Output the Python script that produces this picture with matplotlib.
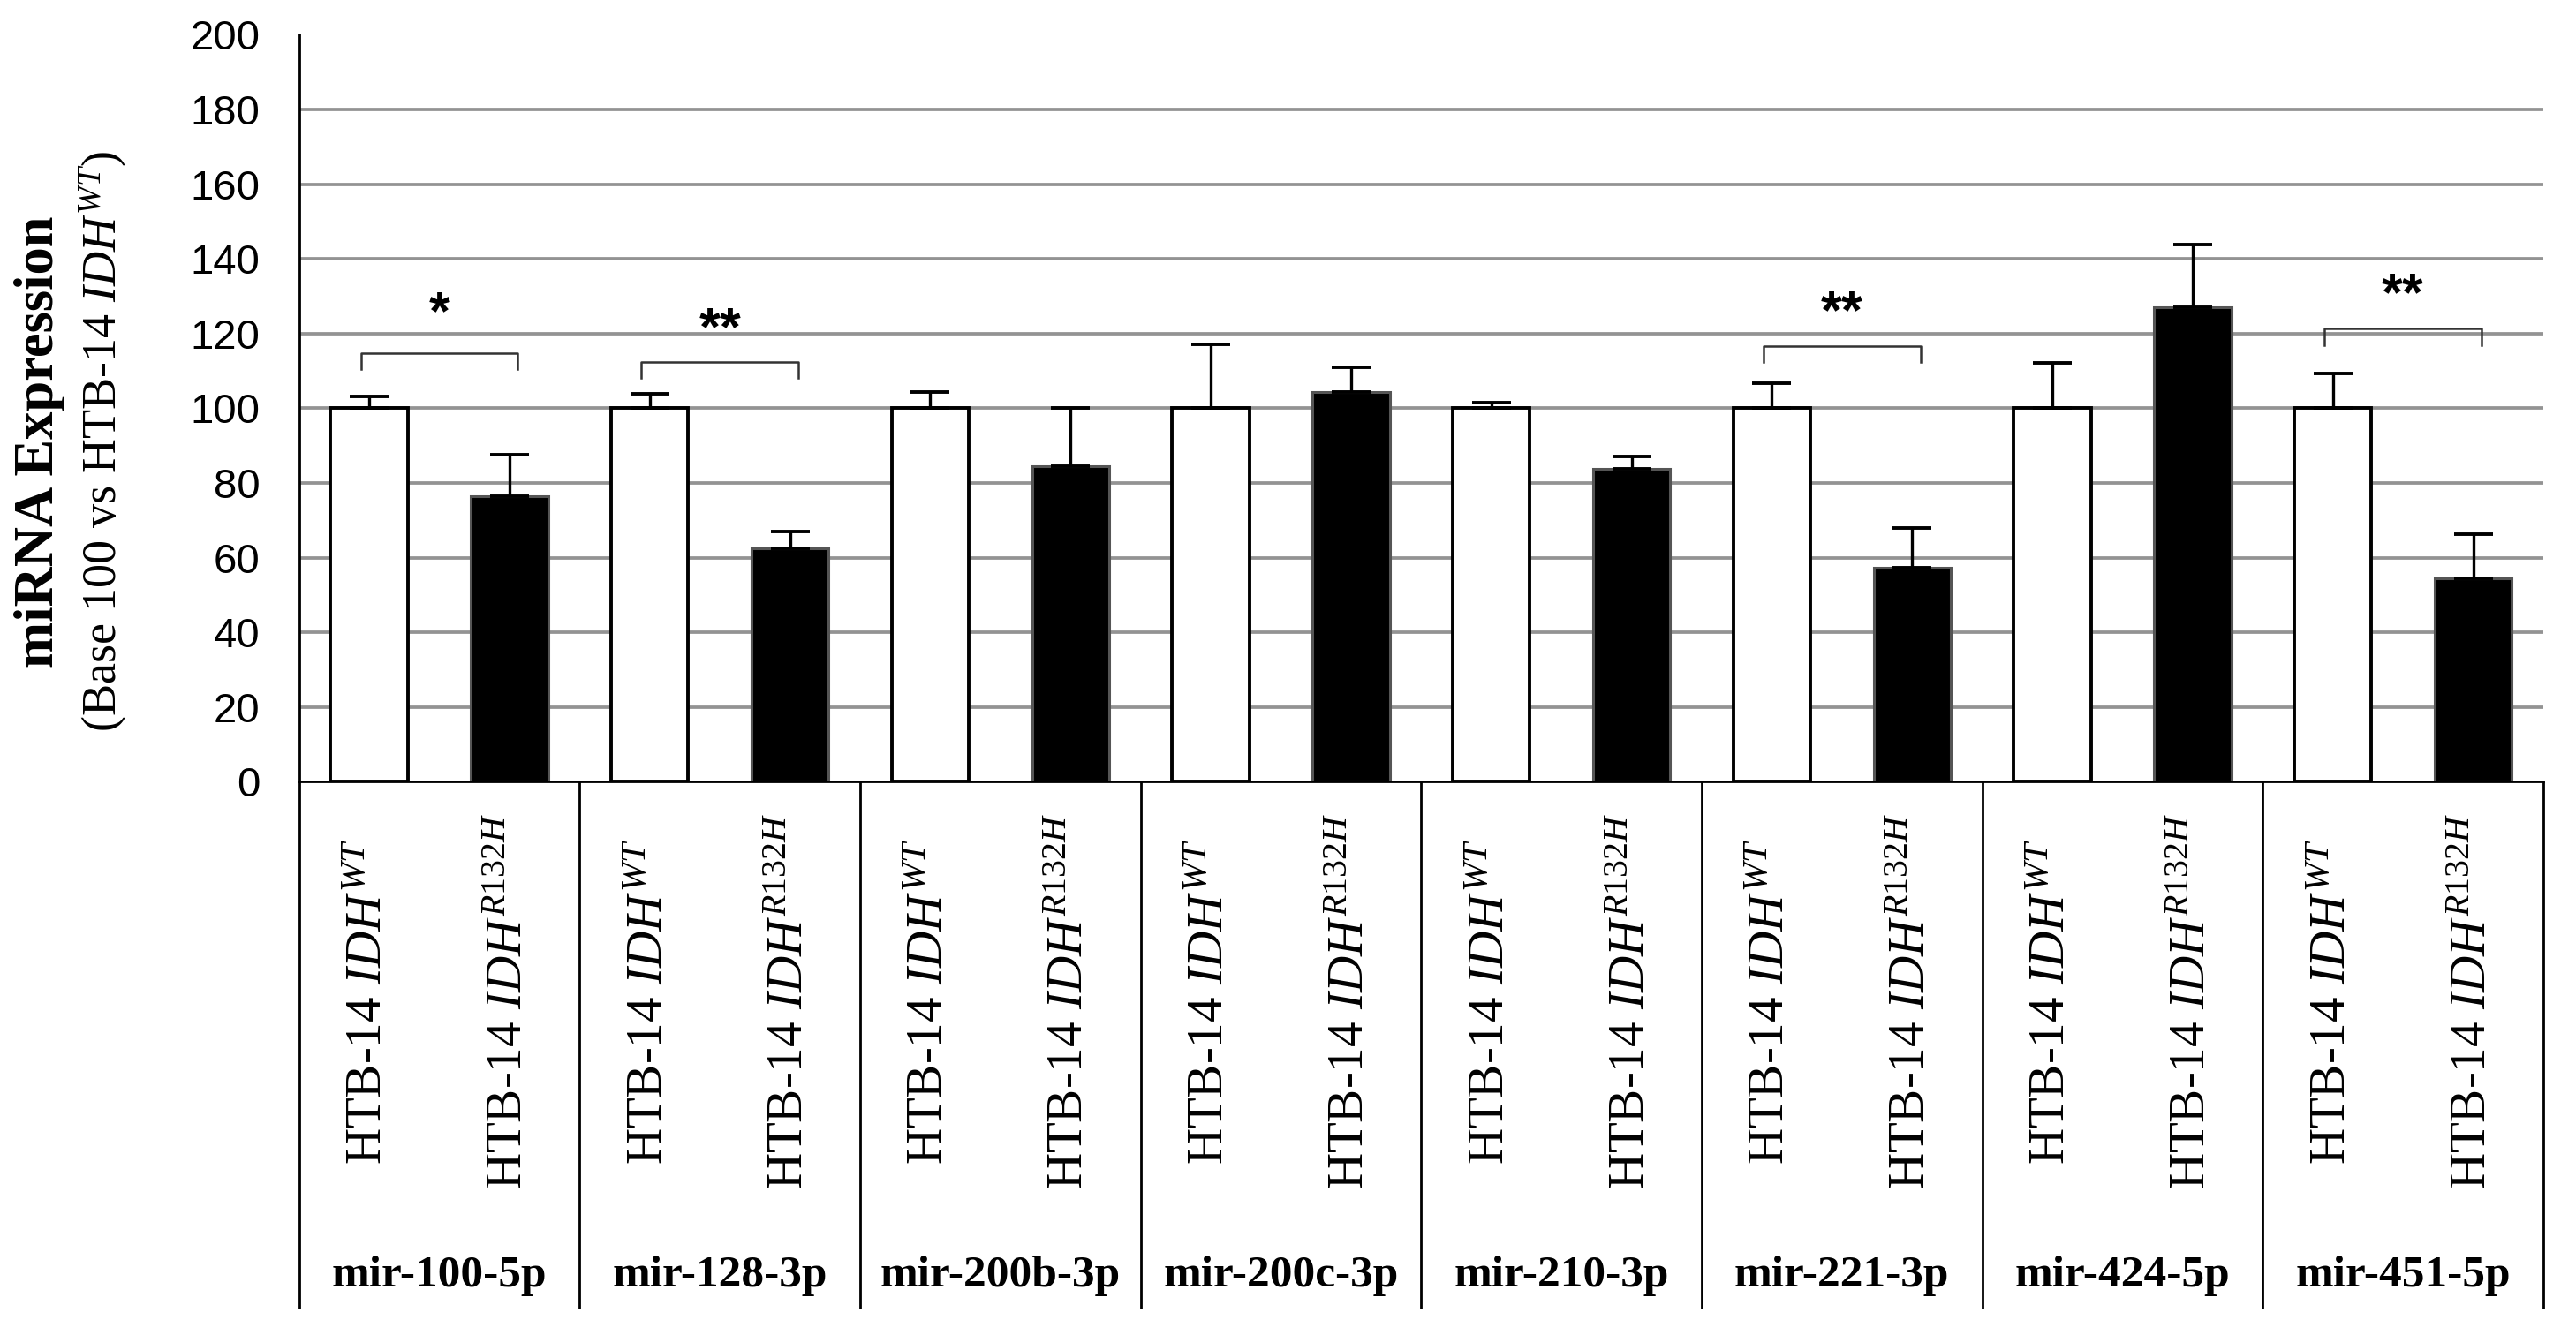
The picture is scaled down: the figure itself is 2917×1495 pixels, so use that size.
import matplotlib
matplotlib.use("Agg")
import matplotlib.pyplot as plt
import numpy as np

plt.rcParams['mathtext.fontset'] = 'custom'
plt.rcParams['mathtext.rm'] = 'Liberation Serif'
plt.rcParams['mathtext.it'] = 'Liberation Serif:italic'
plt.rcParams['mathtext.bf'] = 'Liberation Serif:bold'

# data
mirnas = ['mir-100-5p', 'mir-128-3p', 'mir-200b-3p', 'mir-200c-3p',
          'mir-210-3p', 'mir-221-3p', 'mir-424-5p', 'mir-451-5p']
wt_vals = [100, 100, 100, 100, 100, 100, 100, 100]
wt_err = [3.3, 4.0, 4.4, 17.2, 1.5, 6.8, 12.1, 9.3]
mut_vals = [76.5, 62.6, 84.4, 104.3, 83.7, 57.4, 127.1, 54.4]
mut_err = [11.1, 4.4, 15.6, 6.8, 3.4, 10.6, 16.8, 11.8]
wt_label = r'HTB-14 $\mathit{IDH}^{\mathit{WT}}$'
mut_label = r'HTB-14 $\mathit{IDH}^{\mathit{R132H}}$'

# significance annotations: group index, marker, bracket height, star height
sig_groups = [0, 1, 5, 7]
sig_marks = ['*', '**', '**', '**']
sig_bracket = [114.7, 112.5, 116.7, 121.3]
sig_text_y = [125.0, 120.8, 125.2, 129.9]

fig = plt.figure(figsize=(29.17, 14.95), dpi=100)
ax = fig.add_axes([0.1161, 0.4077, 0.8712, 0.5659])

x = np.arange(len(mirnas))
off = 0.25
w = 0.275

# grid lines (no line at 0 or 200)
ax.hlines(np.arange(20, 200, 20), -0.5, 7.5, color='#939393', lw=2.7, zorder=0)

ax.bar(x - off, wt_vals, w, color='white', edgecolor='black', lw=2.8, zorder=2)
ax.bar(x + off, mut_vals, w, color='black', edgecolor='#555555', lw=2.2, zorder=2)

ax.errorbar(x - off, wt_vals, yerr=[np.zeros(8), wt_err], fmt='none',
            ecolor='black', elinewidth=2.4, capsize=16, capthick=2.8, zorder=3)
ax.errorbar(x + off, mut_vals, yerr=[np.zeros(8), mut_err], fmt='none',
            ecolor='black', elinewidth=2.4, capsize=16, capthick=2.8, zorder=3)

# brackets and stars
for g, m, by, ty in zip(sig_groups, sig_marks, sig_bracket, sig_text_y):
    x0, x1 = g - 0.28, g + 0.28
    ax.plot([x0, x0, x1, x1], [by - 4.3, by, by, by - 4.3], color='#333333',
            lw=1.8, zorder=3)
    ax.text(g, ty, m, ha='center', va='center', fontsize=44,
            fontweight='bold', family='Liberation Sans')

ax.set_xlim(-0.5, 7.5)
ax.set_ylim(0, 200)
ax.set_yticks(np.arange(0, 201, 20))
ax.set_xticks([])
ax.tick_params(axis='y', length=0, pad=32, labelsize=34)
for t in ax.get_yticklabels():
    t.set_family('Liberation Sans')

for s in ['top', 'right']:
    ax.spines[s].set_visible(False)
ax.spines['left'].set_linewidth(2)
ax.spines['bottom'].set_linewidth(2)

# table-like category area below the axis
trans = ax.get_xaxis_transform()
ax.vlines(np.arange(-0.5, 8.5, 1), -0.705, 0, transform=trans, color='black',
          lw=2, clip_on=False)
for i, name in enumerate(mirnas):
    ax.text(i - off, -0.294, wt_label, transform=trans, rotation=90,
            ha='center', va='center', fontsize=41, family='Liberation Serif')
    ax.text(i + off, -0.294, mut_label, transform=trans, rotation=90,
            ha='center', va='center', fontsize=41, family='Liberation Serif')
    ax.text(i, -0.661, name, transform=trans, ha='center', va='center',
            fontsize=37, fontweight='bold', family='Liberation Serif')

# y label, two lines
fig.text(0.0154, 0.6656, 'miRNA Expression', rotation=90, ha='center',
         va='center', fontsize=45, fontweight='bold', family='Liberation Serif')
fig.text(0.0401, 0.6656, r'(Base 100 vs HTB-14 $\mathit{IDH}^{\mathit{WT}}$)',
         rotation=90, ha='center', va='center', fontsize=39,
         family='Liberation Serif')

fig.savefig('out.png', dpi=100)
